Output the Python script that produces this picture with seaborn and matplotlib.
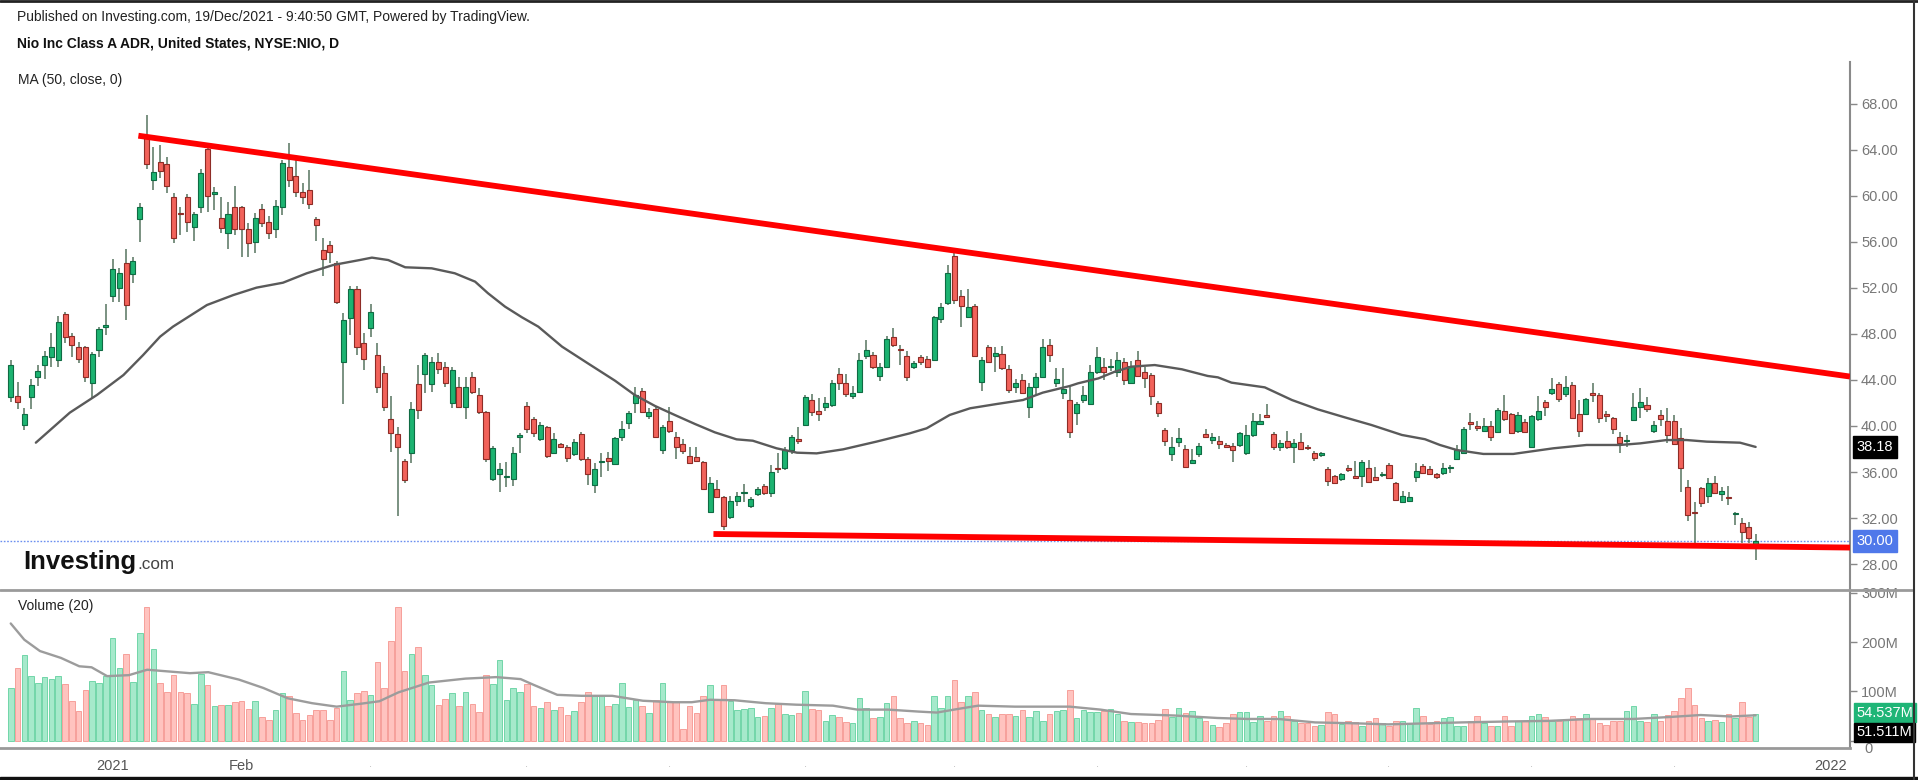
#!/usr/bin/env python3
"""
NIO daily candlestick chart with MA(50), volume and trend lines
"""
import numpy as np
import pandas as pd
import matplotlib
matplotlib.use('Agg')  # no display
import matplotlib.pyplot as plt
from matplotlib.lines import Line2D
from matplotlib.patches import Rectangle
from matplotlib.transforms import blended_transform_factory
import seaborn as sns

# daily bars, 10 Dec 2020 .. 17 Dec 2021
opens = [
    42.55, 42.6, 40.06, 42.55, 44.29, 45.3, 45.97, 45.74, 49.7, 47.83,
    46.9, 46.84, 43.77, 46.61, 48.58, 51.3, 51.97, 54.14, 53.19, 57.97,
    65.01, 61.39, 62.99, 62.78, 59.94, 58.49, 59.94, 57.33, 59.07, 64.06,
    60.17, 58.06, 56.81, 59.07, 59.07, 57.1, 56.03, 58.84, 57.77, 57.1,
    59.07, 62.55, 61.74, 60.35, 60.52, 57.97, 55.3, 55.77, 54.14, 45.59,
    49.36, 51.94, 47.25, 48.55, 46.17, 44.64, 40.58, 39.3, 36.99, 37.68,
    43.65, 44.52, 43.65, 45.59, 45.1, 42.03, 43.42, 41.62, 44.23, 42.7,
    41.25, 35.36, 35.83, 35.57, 35.36, 39.07, 41.74, 40.58, 38.84, 39.88,
    37.68, 38.43, 38.14, 37.57, 39.3, 37.1, 34.87, 36.87, 37.19, 36.7,
    39.01, 40.29, 42.03, 43.07, 40.87, 41.45, 37.91, 40.46, 39.07, 38.43,
    37.39, 37.33, 36.9, 32.55, 34.49, 33.86, 32.12, 33.51, 34.2, 33.04,
    34.09, 34.78, 34.2, 36.38, 36.32, 37.91, 38.84, 40.09, 42.26, 41.3,
    41.62, 41.83, 44.52, 43.71, 42.61, 42.99, 46.09, 46.17, 44.35, 45.1,
    47.77, 46.67, 46.09, 45.1, 45.97, 45.8, 45.74, 49.28, 50.67, 54.78,
    51.3, 49.45, 50.43, 43.86, 46.84, 46.09, 46.26, 44.93, 43.36, 44.0,
    41.68, 43.42, 44.23, 47.04, 43.77, 42.84, 42.26, 41.16, 42.26, 41.91,
    44.72, 45.1, 45.1, 44.72, 45.59, 43.77, 45.74, 44.72, 44.43, 42.03,
    39.65, 37.57, 38.64, 37.97, 36.75, 37.57, 39.3, 38.78, 38.72, 38.35,
    38.26, 38.35, 37.68, 39.22, 40.17, 40.96, 39.3, 38.14, 38.72, 38.2,
    38.64, 38.14, 37.68, 37.48, 36.23, 35.65, 35.36, 36.32, 35.65, 35.65,
    36.32, 35.54, 35.74, 36.61, 35.07, 33.42, 33.51, 35.59, 36.52, 36.23,
    35.83, 35.88, 36.32, 37.1, 37.68, 40.38, 40.0, 39.59, 40.0, 39.51,
    41.33, 41.04, 39.59, 40.38, 38.2, 40.58, 42.12, 42.9, 43.65, 42.78,
    43.57, 41.04, 41.04, 42.84, 42.7, 41.04, 40.67, 39.07, 38.72, 40.52,
    41.62, 41.83, 39.59, 40.96, 40.46, 40.46, 38.93, 34.72, 32.46, 34.58,
    33.91, 35.01, 34.09, 33.86, 32.32, 31.59, 31.19, 29.65,
]
highs = [
    45.74, 43.8, 41.6, 44.06, 45.3, 46.55, 48.1, 49.57, 49.94, 48.06,
    47.3, 46.96, 46.46, 48.64, 50.61, 54.49, 53.71, 55.36, 54.72, 59.42,
    67.04, 64.23, 64.43, 63.36, 60.29, 59.07, 60.17, 58.64, 62.32, 64.29,
    60.75, 59.88, 59.51, 60.87, 59.13, 57.68, 58.55, 59.3, 58.26, 59.65,
    63.13, 64.64, 63.13, 61.16, 62.26, 58.14, 56.32, 56.12, 54.38, 49.8,
    52.17, 52.17, 48.06, 50.61, 47.25, 45.22, 42.61, 39.94, 37.1, 42.12,
    45.3, 46.38, 45.97, 46.38, 45.59, 45.16, 44.29, 44.29, 44.72, 43.28,
    41.33, 38.26, 36.75, 36.9, 38.14, 39.36, 42.12, 40.81, 40.38, 40.0,
    39.36, 38.55, 38.35, 38.84, 39.51, 37.33, 36.81, 37.68, 37.77, 39.07,
    40.46, 41.33, 43.36, 43.28, 41.54, 41.62, 40.09, 41.62, 39.51, 38.84,
    38.14, 38.2, 36.99, 35.59, 35.3, 33.91, 33.91, 34.29, 34.96, 33.86,
    34.72, 34.96, 36.61, 37.62, 38.2, 39.22, 39.88, 42.7, 42.78, 42.41,
    42.55, 44.0, 45.01, 44.52, 43.48, 46.38, 47.48, 46.46, 45.45, 47.83,
    48.49, 47.04, 46.55, 45.68, 46.17, 46.09, 49.57, 50.67, 54.0, 55.01,
    51.83, 51.88, 50.61, 45.97, 47.04, 46.9, 46.96, 45.3, 44.06, 44.52,
    43.77, 44.58, 47.54, 47.54, 45.01, 45.01, 43.42, 42.12, 43.48, 45.3,
    46.9, 45.88, 45.8, 46.46, 45.88, 45.68, 46.55, 45.16, 44.64, 42.2,
    39.8, 39.07, 39.8, 38.35, 37.97, 38.55, 39.71, 39.36, 39.13, 38.49,
    38.49, 39.51, 40.09, 41.16, 41.04, 41.91, 39.51, 38.78, 39.59, 38.84,
    39.42, 38.35, 37.86, 37.77, 36.46, 35.74, 35.94, 36.61, 36.99, 37.04,
    37.04, 36.46, 36.03, 36.81, 35.16, 34.38, 34.29, 36.75, 36.7, 36.52,
    35.94, 36.75, 36.61, 38.35, 39.94, 41.1, 40.46, 40.67, 40.46, 41.54,
    42.7, 41.16, 41.25, 40.58, 40.96, 42.61, 42.26, 44.14, 43.86, 44.35,
    43.86, 42.26, 42.41, 43.71, 42.84, 41.33, 40.81, 39.51, 39.22, 42.9,
    43.28, 42.55, 40.46, 41.39, 41.54, 40.96, 39.8, 35.3, 33.42, 34.72,
    35.45, 35.65, 34.72, 34.78, 32.55, 31.97, 31.68, 30.61,
]
lows = [
    42.1, 41.45, 39.65, 41.45, 43.5, 44.06, 45.16, 45.16, 47.19, 46.03,
    45.45, 43.86, 42.41, 46.03, 47.91, 50.81, 50.81, 49.22, 52.46, 56.03,
    62.32, 60.52, 61.54, 60.23, 55.88, 56.61, 56.9, 56.12, 58.49, 58.64,
    58.78, 56.75, 55.36, 56.61, 54.72, 54.72, 55.01, 57.33, 56.23, 56.32,
    58.35, 60.75, 59.88, 59.3, 58.84, 56.12, 53.04, 54.2, 50.61, 41.91,
    47.91, 46.17, 44.87, 47.77, 42.84, 41.33, 37.77, 32.17, 35.07, 36.75,
    40.58, 42.9, 42.99, 44.52, 43.36, 41.54, 41.62, 40.58, 42.78, 41.04,
    36.9, 35.25, 34.29, 34.67, 34.78, 37.68, 39.42, 39.01, 38.72, 37.19,
    37.57, 38.06, 36.9, 37.39, 36.99, 34.87, 34.2, 35.59, 36.12, 36.61,
    38.72, 39.71, 41.1, 41.1, 40.58, 38.93, 37.57, 39.42, 37.1, 37.57,
    36.75, 36.9, 34.43, 32.46, 33.8, 30.96, 31.88, 33.04, 33.42, 32.84,
    33.91, 34.0, 33.8, 35.88, 36.17, 37.57, 38.43, 40.0, 40.87, 40.46,
    41.33, 41.68, 43.13, 42.55, 42.32, 42.9, 45.8, 44.93, 43.94, 45.01,
    46.9, 45.3, 43.94, 44.93, 45.3, 45.01, 45.68, 48.99, 50.52, 50.61,
    48.64, 49.36, 45.97, 43.07, 45.45, 44.72, 44.87, 42.9, 42.9, 42.78,
    40.67, 42.61, 44.14, 45.59, 43.42, 42.32, 38.93, 40.09, 42.03, 41.83,
    44.52, 44.0, 44.81, 44.23, 43.57, 43.71, 44.23, 43.28, 41.83, 40.75,
    38.26, 36.99, 38.14, 36.41, 36.7, 37.28, 38.93, 38.43, 37.97, 38.14,
    36.9, 38.2, 37.48, 39.07, 40.09, 40.67, 37.91, 37.86, 37.97, 36.81,
    37.91, 37.91, 36.99, 37.33, 34.78, 34.96, 35.25, 36.03, 35.36, 34.72,
    35.07, 35.25, 35.59, 35.36, 33.51, 33.33, 33.42, 35.16, 35.88, 35.74,
    35.36, 35.74, 35.88, 37.04, 37.62, 39.65, 39.59, 39.51, 38.72, 39.42,
    40.46, 39.36, 39.42, 39.42, 38.14, 40.46, 40.87, 42.7, 42.12, 42.55,
    40.58, 39.07, 40.96, 42.12, 40.23, 40.38, 39.3, 37.62, 38.14, 40.46,
    40.67, 41.25, 39.42, 40.0, 38.49, 38.35, 34.29, 31.77, 29.8, 32.93,
    33.28, 34.09, 33.51, 33.13, 31.39, 29.8, 29.8, 28.35,
]
closes = [
    45.3, 42.1, 41.04, 43.56, 44.78, 46.1, 46.84, 49.07, 47.71, 47.04,
    45.86, 44.23, 46.26, 48.46, 48.75, 53.62, 53.28, 50.52, 54.38, 59.01,
    62.78, 62.12, 62.2, 60.87, 56.32, 58.43, 57.77, 58.43, 62.03, 60.0,
    60.38, 57.19, 58.41, 57.1, 57.1, 55.88, 58.06, 57.62, 56.75, 59.13,
    62.9, 61.39, 60.38, 59.94, 59.3, 57.48, 54.49, 55.16, 50.81, 49.22,
    51.94, 46.9, 45.86, 49.91, 43.36, 41.62, 39.42, 38.2, 35.3, 41.45,
    41.39, 46.17, 45.59, 44.93, 43.77, 44.87, 41.68, 43.42, 42.99, 41.25,
    37.1, 38.06, 36.23, 35.65, 37.68, 39.19, 39.71, 39.36, 40.09, 37.39,
    38.84, 38.2, 37.19, 38.64, 37.1, 35.83, 36.23, 36.96, 36.99, 38.93,
    39.71, 41.16, 42.7, 41.25, 41.25, 39.07, 39.94, 39.59, 38.14, 37.86,
    36.81, 36.99, 34.49, 35.01, 33.86, 31.3, 33.51, 33.91, 34.29, 33.62,
    34.49, 34.14, 36.03, 36.23, 37.91, 39.01, 38.72, 42.49, 41.25, 41.04,
    42.03, 43.77, 43.71, 42.78, 42.9, 45.74, 46.61, 45.16, 45.1, 47.54,
    47.04, 46.61, 44.23, 45.51, 45.59, 45.16, 49.45, 50.38, 53.28, 50.96,
    50.43, 50.32, 46.09, 45.74, 45.59, 46.38, 45.01, 43.13, 43.77, 42.9,
    43.36, 44.29, 46.84, 46.17, 44.06, 43.19, 39.51, 41.91, 42.7, 44.72,
    45.97, 44.72, 45.16, 45.74, 44.0, 45.22, 44.35, 44.14, 42.61, 41.16,
    38.72, 38.2, 38.93, 36.46, 37.04, 38.26, 39.07, 39.01, 38.43, 38.2,
    37.91, 39.42, 39.22, 40.46, 40.46, 40.75, 38.2, 38.49, 38.14, 38.49,
    37.97, 38.06, 37.19, 37.68, 35.25, 35.01, 35.83, 36.17, 35.45, 36.9,
    35.16, 35.3, 35.83, 35.45, 33.57, 33.91, 33.86, 36.12, 35.94, 35.83,
    35.59, 36.32, 36.38, 37.91, 39.71, 40.17, 39.8, 40.0, 39.01, 41.39,
    40.58, 39.42, 40.96, 39.51, 40.87, 41.33, 41.62, 43.25, 42.32, 43.36,
    40.67, 39.59, 42.32, 42.72, 40.67, 40.87, 39.71, 38.49, 38.78, 41.62,
    42.12, 41.45, 40.09, 40.58, 39.22, 38.43, 36.32, 32.26, 32.41, 33.28,
    35.07, 34.2, 34.38, 33.77, 32.41, 30.81, 30.23, 30.00,
]
# volume in millions of shares
volumes_m = [
    106, 148, 173, 132, 118, 129, 126, 132, 116, 80,
    61, 103, 122, 117, 131, 209, 148, 176, 119, 219,
    271, 186, 117, 99, 133, 99, 97, 74, 136, 112,
    71, 73, 73, 78, 80, 65, 80, 48, 42, 63,
    97, 90, 56, 41, 52, 63, 63, 42, 67, 142,
    83, 97, 101, 93, 160, 106, 203, 271, 142, 176,
    190, 133, 113, 73, 84, 97, 71, 99, 75, 59,
    133, 116, 163, 83, 107, 99, 116, 71, 67, 78,
    63, 68, 52, 61, 78, 99, 91, 91, 71, 75,
    117, 69, 83, 71, 56, 83, 117, 78, 78, 24,
    71, 56, 91, 114, 83, 114, 81, 63, 65, 66,
    48, 50, 67, 75, 54, 52, 57, 101, 65, 63,
    39, 52, 47, 37, 35, 86, 66, 46, 47, 76,
    91, 46, 35, 40, 35, 32, 91, 66, 91, 124,
    78, 90, 98, 62, 55, 47, 55, 55, 50, 62,
    47, 60, 40, 55, 60, 62, 103, 45, 62, 58,
    58, 60, 65, 54, 40, 38, 38, 35, 35, 42,
    65, 48, 67, 56, 60, 45, 40, 32, 28, 35,
    55, 58, 58, 38, 50, 40, 50, 60, 50, 40,
    35, 35, 30, 32, 58, 55, 33, 40, 38, 30,
    40, 45, 35, 30, 40, 40, 35, 67, 50, 33,
    40, 45, 48, 30, 30, 40, 50, 35, 30, 30,
    50, 30, 40, 40, 50, 55, 48, 40, 40, 42,
    50, 45, 55, 45, 35, 32, 40, 40, 60, 71,
    40, 38, 55, 40, 52, 60, 86, 106, 72, 45,
    40, 42, 38, 55, 45, 78, 47, 54.537,
]

# MA(50, close) line, sampled along the chart (bar index, price)
ma50_idx = [3.7, 8.7, 12.7, 16.6, 19.5, 22.0, 23.9, 28.9, 32.8, 36.2,
            40.1, 43.6, 47.5, 51.4, 53.2, 55.6, 58.1, 62.0, 65.4, 68.4,
            70.3, 72.8, 75.3, 77.7, 81.2, 85.0, 89.0, 91.9, 94.9, 97.8,
            100.8, 103.7, 106.9, 109.3, 112.8, 115.8, 118.7, 122.6, 127.5, 132.4,
            134.9, 138.3, 141.3, 145.2, 149.1, 152.0, 156.0, 157.2, 160.2, 162.6,
            165.1, 168.5, 172.5, 176.3, 177.8, 179.8, 184.7, 188.7, 192.5, 196.5,
            200.4, 204.9, 208.3, 210.5, 213.0, 216.9, 221.3, 227.2, 232.1, 237.0,
            240.0, 243.9, 246.8, 249.8, 254.7, 257.0]
ma50_val = [38.55, 41.16, 42.7, 44.43, 46.17, 47.77, 48.64, 50.52, 51.39, 52.03,
            52.46, 53.28, 54.0, 54.43, 54.64, 54.43, 53.8, 53.71, 53.28, 52.55,
            51.54, 50.38, 49.45, 48.64, 46.9, 45.45, 43.94, 42.7, 41.74, 40.96,
            40.17, 39.45, 38.84, 38.72, 38.06, 37.68, 37.62, 37.97, 38.64, 39.36,
            39.8, 40.96, 41.54, 41.91, 42.26, 42.9, 43.48, 43.71, 44.14, 44.72,
            45.16, 45.3, 44.93, 44.35, 44.23, 43.77, 43.36, 42.26, 41.45, 40.75,
            40.09, 39.22, 38.85, 38.35, 37.91, 37.57, 37.57, 38.06, 38.35, 38.35,
            38.49, 38.78, 38.78, 38.64, 38.55, 38.18]

# Volume MA(20), sampled (bar index, millions)
vol_ma_idx = [0, 2, 4.3, 7.4, 10.1, 11.9, 14.2, 17.4, 20.1, 22.8,
              26.4, 29.1, 33.6, 37.2, 40.8, 44.4, 48.0, 51.6, 54.3, 57.1,
              61.6, 67.0, 71.5, 75.1, 76.9, 80.5, 84.1, 88.6, 93.1, 97.6,
              100.3, 103.0, 106.6, 111.2, 115.7, 121.1, 124.7, 129.2, 133.7, 136.4,
              139.8, 142.5, 147.9, 156.0, 160.5, 165.0, 171.4, 177.7, 182.2, 186.7,
              192.1, 198.4, 202.9, 208.3, 213.7, 220.9, 226.3, 232.7, 239.0, 244.4,
              248.9, 253.4, 257.0]
vol_ma_val = [238, 205, 182, 168, 151, 149, 131, 133, 144, 141,
              137, 139, 124, 107, 86, 76, 69, 75, 80, 98,
              118, 126, 129, 125, 114, 93, 91, 91, 81, 78,
              78, 83, 82, 76, 73, 71, 63, 63, 59, 57,
              65, 71, 69, 69, 63, 54, 51, 46, 44, 44,
              37, 35, 33, 35, 37, 39, 40, 44, 44, 48,
              52, 49, 51.5]

# hand-drawn trend lines (bar index, price)
upper_trend_idx = [18.8, 270.9]
upper_trend_val = [65.24, 44.3]
lower_trend_idx = [103.5, 270.9]
lower_trend_val = [30.61, 29.43]

month_tick_idx = [15, 34, 53, 76, 97, 117, 139, 160, 182, 203, 224, 245, 268]
month_tick_labels = ['2021', 'Feb', '.', '.', '.', '.', '.', '.', '.', '.', '.', '.', '2022']

price_ticks = [28, 32, 36, 40, 44, 48, 52, 56, 60, 64, 68]
vol_ticks = [0, 100, 200, 300]
vol_tick_labels = ['0', '100M', '200M', '300M']

last_price = 30.00
last_ma = 38.18
last_vol_text = '54.537M'
last_vol_ma = 51.511

GREEN = '#1cb371'
GREEN_EDGE = '#0f6b43'
RED = '#f2625a'
RED_EDGE = '#8e2c26'
WICK = '#56745f'
VOL_GREEN = '#a6e9cb'
VOL_GREEN_EDGE = '#72d6a9'
VOL_RED = '#ffc3bf'
VOL_RED_EDGE = '#f6a09a'

W, H = 1918, 780
X_LIM = (-1.58, 270.9)


def fy(px):
    """pixel row (from top) -> figure fraction"""
    return 1 - px / H


def draw_candles(ax):
    o = np.array(opens)
    c = np.array(closes)
    x = np.arange(len(c))
    up = c >= o
    low = np.minimum(o, c)
    height = np.maximum(np.abs(c - o), 0.08)

    ax.vlines(x, lows, highs, color=WICK, linewidth=1.1, zorder=2)
    ax.bar(x[up], height[up], bottom=low[up], width=0.74, color=GREEN,
           edgecolor=GREEN_EDGE, linewidth=0.8, zorder=3)
    ax.bar(x[~up], height[~up], bottom=low[~up], width=0.74, color=RED,
           edgecolor=RED_EDGE, linewidth=0.8, zorder=3)


def draw_price_panel(ax):
    draw_candles(ax)

    ma_df = pd.DataFrame({'idx': ma50_idx, 'ma': ma50_val})
    sns.lineplot(data=ma_df, x='idx', y='ma', ax=ax, color='#5a5a5a',
                 linewidth=1.7, estimator=None, sort=False, zorder=4)

    ax.plot(upper_trend_idx, upper_trend_val, color='#ff0000', linewidth=4.2,
            solid_capstyle='butt', zorder=5)
    ax.plot(lower_trend_idx, lower_trend_val, color='#ff0000', linewidth=4.2,
            solid_capstyle='butt', zorder=5)
    ax.axhline(last_price, color='#6b8ff0', linestyle=(0, (1.2, 1.2)),
               linewidth=1.0, zorder=1)

    ax.set_xlim(*X_LIM)
    ax.set_ylim(25.74, 71.65)
    ax.set_xticks([])
    ax.yaxis.tick_right()
    ax.set_yticks(price_ticks)
    ax.set_yticklabels([f'{p:.2f}' for p in price_ticks])
    ax.tick_params(axis='y', direction='out', length=5, width=1, color='#888888',
                   labelcolor='#777777', labelsize=10.5, pad=3)
    ax.set_xlabel('')
    ax.set_ylabel('')
    for side in ['top', 'left', 'bottom']:
        ax.spines[side].set_visible(False)
    ax.spines['right'].set_color('#8a8a8a')
    ax.spines['right'].set_linewidth(1.5)

    tr = blended_transform_factory(ax.transAxes, ax.transData)
    ax.text(1.0035, last_ma, f'{last_ma:.2f}', transform=tr, color='white',
            fontsize=10.5, va='center', ha='left', zorder=10,
            bbox=dict(boxstyle='square,pad=0.25', fc='black', ec='black'))
    ax.text(1.0035, last_price, f'{last_price:.2f}', transform=tr, color='white',
            fontsize=10.5, va='center', ha='left', zorder=10,
            bbox=dict(boxstyle='square,pad=0.25', fc='#4f78ea', ec='#4f78ea'))

    ax.text(0.0099, 0.965, 'MA (50, close, 0)', transform=ax.transAxes,
            fontsize=10, color='#222222', va='center', ha='left')


def draw_volume_panel(ax):
    o = np.array(opens)
    c = np.array(closes)
    x = np.arange(len(c))
    up = c >= o
    fills = [VOL_GREEN if u else VOL_RED for u in up]
    edges = [VOL_GREEN_EDGE if u else VOL_RED_EDGE for u in up]
    ax.bar(x, volumes_m, width=0.82, color=fills, edgecolor=edges,
           linewidth=0.7, zorder=2)

    vma_df = pd.DataFrame({'idx': vol_ma_idx, 'vma': vol_ma_val})
    sns.lineplot(data=vma_df, x='idx', y='vma', ax=ax, color='#9c9c9c',
                 linewidth=1.7, estimator=None, sort=False, zorder=3)

    ax.set_xlim(*X_LIM)
    ax.set_ylim(-15, 306)
    ax.yaxis.tick_right()
    ax.set_yticks(vol_ticks)
    # the "0" label sits half hidden under the MA badge, drawn separately below
    ax.set_yticklabels([''] + vol_tick_labels[1:])
    ax.tick_params(axis='y', direction='out', length=5, width=1, color='#888888',
                   labelcolor='#777777', labelsize=10.5, pad=3)
    ax.set_xticks(month_tick_idx)
    ax.set_xticklabels(month_tick_labels)
    ax.tick_params(axis='x', direction='out', length=5, width=1, color='#888888',
                   labelcolor='#555555', labelsize=10.5, pad=3)
    for lbl in ax.get_xticklabels():
        if lbl.get_text() == '.':
            lbl.set_color('#b8b8b8')
            lbl.set_fontsize(8)
    ax.set_xlabel('')
    ax.set_ylabel('')
    for side in ['top', 'left']:
        ax.spines[side].set_visible(False)
    ax.spines['right'].set_color('#8a8a8a')
    ax.spines['right'].set_linewidth(1.5)
    ax.spines['bottom'].set_color('#999999')
    ax.spines['bottom'].set_linewidth(2)

    tr = blended_transform_factory(ax.transAxes, ax.transData)
    ax.text(1.0035, volumes_m[-1] + 2.5, last_vol_text, transform=tr, color='white',
            fontsize=10.5, va='center', ha='left', zorder=10,
            bbox=dict(boxstyle='square,pad=0.18', fc='#1fb577', ec='#1fb577'))
    ax.text(1.0035, volumes_m[-1] - 37.5, f'{last_vol_ma:.3f}M', transform=tr,
            color='white', fontsize=10.5, va='center', ha='left', zorder=10,
            bbox=dict(boxstyle='square,pad=0.18', fc='black', ec='black'))
    ax.text(1.0075, -17, vol_tick_labels[0], transform=tr, color='#777777',
            fontsize=10.5, va='center', ha='left', clip_on=False)

    ax.text(0.0099, 0.9, 'Volume (20)', transform=ax.transAxes,
            fontsize=10, color='#222222', va='center', ha='left')


def draw_logo(fig):
    """Investing.com watermark, '.com' placed right after the bold word"""
    word = fig.text(23 / W, fy(569), 'Investing', fontsize=18.5, fontweight='bold',
                    color='#111111', va='baseline', ha='left')
    fig.canvas.draw()
    bb = word.get_window_extent(renderer=fig.canvas.get_renderer())
    fig.text(bb.x1 / W + 0.0005, fy(569), '.com', fontsize=12.3, color='#444444',
             va='baseline', ha='left')


def main():
    sns.set_theme(style='white')
    plt.rcParams['font.family'] = ['Liberation Sans', 'DejaVu Sans']

    fig = plt.figure(figsize=(W / 100, H / 100), dpi=100)
    fig.patch.set_facecolor('white')

    ax_p = fig.add_axes([0, fy(590), 1850 / W, fy(62) - fy(590)])
    ax_v = fig.add_axes([0, fy(748), 1850 / W, fy(590) - fy(748)])
    for ax in (ax_p, ax_v):
        ax.set_facecolor('white')
        ax.grid(False)

    draw_price_panel(ax_p)
    draw_volume_panel(ax_v)

    # header
    fig.text(17 / W, fy(17), 'Published on Investing.com, 19/Dec/2021 - 9:40:50 GMT, '
             'Powered by TradingView.', fontsize=10, color='#222222', va='center')
    fig.text(17 / W, fy(43), 'Nio Inc Class A ADR, United States, NYSE:NIO, D',
             fontsize=10, fontweight='bold', color='#111111', va='center')

    draw_logo(fig)

    # panel separator and frame
    fig.add_artist(Line2D([0, 1912 / W], [fy(590), fy(590)], color='#9a9a9a',
                          linewidth=2))
    fig.add_artist(Line2D([0, 1], [fy(0.6), fy(0.6)], color='#222222', linewidth=2))
    fig.add_artist(Line2D([1914 / W, 1914 / W], [0, 1], color='#333333', linewidth=1.5))
    fig.add_artist(Rectangle((0, 0), 1, 3 / H, transform=fig.transFigure,
                             color='#111111'))

    fig.savefig('out.png', dpi=100, facecolor='white')
    plt.close(fig)


if __name__ == '__main__':
    main()
